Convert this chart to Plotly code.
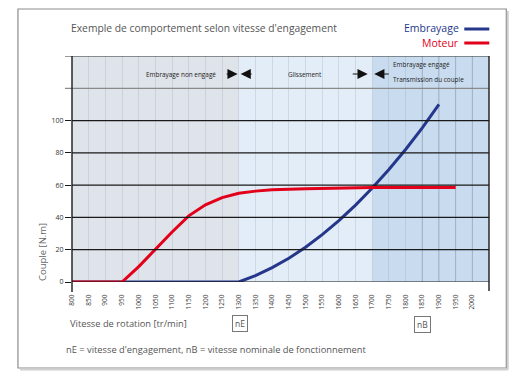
import plotly.graph_objects as go

# ---- data ----
rpm_embrayage = [800, 950, 1300, 1350, 1400, 1450, 1500, 1550, 1600, 1650, 1700, 1750, 1800, 1850, 1900]
couple_embrayage = [0, 0, 0, 4, 8.9, 14.7, 21.5, 29.3, 38, 47.6, 58.2, 69.7, 82.1, 95.5, 110]

rpm_moteur = [800, 950, 1000, 1050, 1100, 1150, 1200, 1250, 1300, 1350, 1400, 1500, 1600, 1700, 1800, 1950]
couple_moteur = [0, 0, 9.5, 20.5, 31, 41, 47.8, 52.3, 55, 56.3, 57.1, 57.8, 58.2, 58.5, 58.5, 58.5]

x_ticks = list(range(800, 2001, 50))
y_ticks = [0, 20, 40, 60, 80, 100]

zones = [(800, 1300, "#dfe3ea"), (1300, 1700, "#e3edf7"), (1700, 2050, "#c9dcef")]

RED = "#e2001a"
NAVY = "#25378a"
FONT = "Open Sans"

# plot area in pixels
L, R, T, B = 72, 488.7, 56, 282
W, H = 516, 376


def px(x):
    return (x - L) / (R - L)


def py(y):
    return (B - y) / (B - T)


fig = go.Figure()
fig.add_trace(go.Scatter(x=rpm_embrayage, y=couple_embrayage, mode="lines",
                         line=dict(color=NAVY, width=3), showlegend=False, hoverinfo="skip"))
fig.add_trace(go.Scatter(x=rpm_moteur, y=couple_moteur, mode="lines",
                         line=dict(color=RED, width=3), showlegend=False, hoverinfo="skip"))

shapes = []
for x0, x1, c in zones:
    shapes.append(dict(type="rect", xref="x", yref="y", x0=x0, x1=x1, y0=0, y1=140,
                       fillcolor=c, line_width=0, layer="below"))
# darker vertical grid lines in engaged zone
for xv in [1850, 1900, 1950, 2000]:
    shapes.append(dict(type="line", xref="x", yref="y", x0=xv, x1=xv, y0=0, y1=140,
                       line=dict(color="rgba(120,135,160,0.45)", width=1), layer="below"))
# horizontal lines
for yv in y_ticks:
    shapes.append(dict(type="line", xref="paper", yref="y", x0=0, x1=1, y0=yv, y1=yv,
                       line=dict(color="#1a1a1a", width=1.2)))
shapes.append(dict(type="line", xref="paper", yref="y", x0=px(65), x1=1, y0=120, y1=120,
                   line=dict(color="#8a8a8a", width=1.2)))
shapes.append(dict(type="line", xref="paper", yref="y", x0=px(65), x1=1, y0=140, y1=140,
                   line=dict(color="#333333", width=1.2)))
# axis frame lines
shapes.append(dict(type="line", xref="paper", yref="paper", x0=0, x1=0, y0=py(292), y1=1,
                   line=dict(color="#1a1a1a", width=1.4)))
shapes.append(dict(type="line", xref="paper", yref="paper", x0=1, x1=1, y0=py(291), y1=1,
                   line=dict(color="#1a1a1a", width=1.4)))
# outer frame
shapes.append(dict(type="rect", xref="paper", yref="paper", x0=px(18), x1=px(506), y0=py(368), y1=py(9),
                   line=dict(color="#8c8c8c", width=1.2), layer="below"))
shapes.append(dict(type="line", xref="paper", yref="paper", x0=px(507.5), x1=px(507.5), y0=py(369), y1=py(11),
                   line=dict(color="#d0d0d0", width=2), layer="below"))
shapes.append(dict(type="line", xref="paper", yref="paper", x0=px(20), x1=px(508), y0=py(369.5), y1=py(369.5),
                   line=dict(color="#d0d0d0", width=2), layer="below"))
# legend lines
shapes.append(dict(type="line", xref="paper", yref="paper", x0=px(464), x1=px(489), y0=py(29), y1=py(29),
                   line=dict(color=NAVY, width=3)))
shapes.append(dict(type="line", xref="paper", yref="paper", x0=px(464), x1=px(489), y0=py(43), y1=py(43),
                   line=dict(color=RED, width=3)))

ann = []


def text(x, y, s, size, color="#444", xanchor="left", **kw):
    ann.append(dict(x=px(x), y=py(y), xref="paper", yref="paper", text=s, showarrow=False,
                    xanchor=xanchor, yanchor="middle", font=dict(family=FONT, size=size, color=color), **kw))


text(69, 28, "Exemple de comportement selon vitesse d'engagement", 10.3, "#555")
text(461, 28, "Embrayage", 10.5, NAVY, xanchor="right")
text(461, 43, "Moteur", 10.5, RED, xanchor="right")
text(218, 74, "Embrayage non engagé", 6.4, "#222", xanchor="right")
text(305, 74, "Glissement", 6.4, "#222", xanchor="center")
text(391, 65, "Embrayage engagé", 6.4, "#222")
text(391, 79, "Transmission du couple", 6.4, "#222")
text(68, 323, "Vitesse de rotation [tr/min]", 9.3, "#555")
text(64, 349, "nE = vitesse d'engagement, nB = vitesse nominale de fonctionnement", 9.3, "#555")
text(240, 323.5, "nE", 8.5, "#555", xanchor="center", bordercolor="#777", borderwidth=1, borderpad=2,
     bgcolor="white")
text(422.5, 324, "nB", 8.5, "#555", xanchor="center", bordercolor="#777", borderwidth=1, borderpad=2,
     bgcolor="white")
text(42, 252, "Couple [N.m]", 9.5, "#666", xanchor="center", textangle=-90)

# arrows (head position, tail position in px)
for (xh, xt) in [(237.5, 225), (240.5, 253), (367.5, 351), (374, 390)]:
    ann.append(dict(x=px(xh), y=py(74), xref="paper", yref="paper", ax=xt - xh, ay=0,
                    axref="pixel", ayref="pixel", text="", showarrow=True, arrowhead=2,
                    arrowsize=1.7, arrowwidth=1.2, arrowcolor="#111"))

fig.update_layout(
    width=W, height=H,
    margin=dict(l=L, r=W - R, t=T, b=H - B),
    paper_bgcolor="white", plot_bgcolor="white",
    shapes=shapes, annotations=ann,
    xaxis=dict(range=[800, 2050], tickvals=x_ticks, ticktext=[str(v) for v in x_ticks],
               tickangle=-90, tickfont=dict(family=FONT, size=6.5, color="#333"),
               ticks="outside", ticklen=9, tickcolor="rgba(0,0,0,0)",
               showgrid=True, gridcolor="rgba(150,160,180,0.28)", gridwidth=1,
               zeroline=False, showline=False, fixedrange=True, automargin=False),
    yaxis=dict(range=[0, 140], tickvals=y_ticks, ticktext=[str(v) for v in y_ticks],
               tickfont=dict(family=FONT, size=7, color="#333"), ticks="outside", ticklen=6,
               tickcolor="#1a1a1a", tickwidth=1.2,
               showgrid=False, zeroline=False, showline=False, fixedrange=True, automargin=False),
    showlegend=False,
)

fig.write_html("out.html", config={"displayModeBar": False},
               post_script="document.body.style.margin='0px';document.body.style.overflow='hidden';")
